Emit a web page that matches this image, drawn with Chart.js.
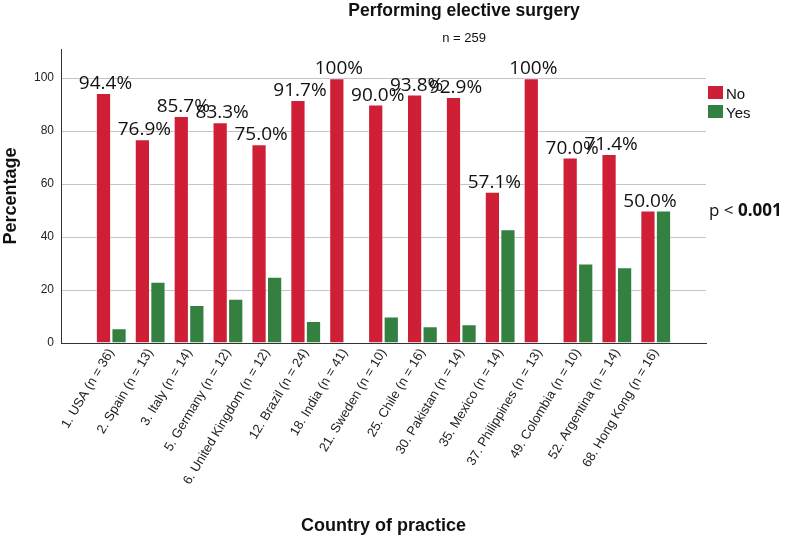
<!DOCTYPE html>
<html>
<head>
<meta charset="utf-8">
<script src="https://cdn.jsdelivr.net/npm/chart.js@4.4.0/dist/chart.umd.min.js"></script>
<style>
  html, body { margin: 0; padding: 0; background: #fff; }
</style>
</head>
<body>
<canvas id="grafico" width="795" height="541"></canvas>
<script>
const paises = [
    "1. USA (n = 36)", "2. Spain (n = 13)", "3. Italy (n = 14)", "5. Germany (n = 12)",
    "6. United Kingdom (n = 12)", "12. Brazil (n = 24)", "18. India (n = 41)",
    "21. Sweden (n = 10)", "25. Chile (n = 16)", "30. Pakistan (n = 14)",
    "35. Mexico (n = 14)", "37. Philippines (n = 13)", "49. Colombia (n = 10)",
    "52. Argentina (n = 14)", "68. Hong Kong (n = 16)"
];
const valoresNo = [94.4, 76.9, 85.7, 83.3, 75.0, 91.7, 100, 90.0, 93.8, 92.9, 57.1, 100, 70.0, 71.4, 50.0];
const valoresYes = [5.6, 23.1, 14.3, 16.7, 25.0, 8.3, 0, 10.0, 6.3, 7.1, 42.9, 0, 30.0, 28.6, 50.0];
const rotulosNo = ["94.4%", "76.9%", "85.7%", "83.3%", "75.0%", "91.7%", "100%", "90.0%", "93.8%", "92.9%", "57.1%", "100%", "70.0%", "71.4%", "50.0%"];
const ticksY = [0, 20, 40, 60, 80, 100];

const VERMELHO = "#cf1f37";
const VERDE = "#348040";

// textos fora do eixo: titulo, legenda, p-valor e rotulos das barras
const textosExtras = {
    id: "textosExtras",
    afterDatasetsDraw(chart) {
        const c = chart.ctx;
        c.save();
        c.fillStyle = "#111";
        c.textAlign = "center";
        c.textBaseline = "alphabetic";
        c.font = "19px 'Open Sans'";
        const meta = chart.getDatasetMeta(0);
        meta.data.forEach((bar, i) => {
            c.fillText(rotulosNo[i], bar.x + 2, bar.y - 4);
        });
        c.restore();
    },
    afterDraw(chart) {
        const c = chart.ctx;
        c.save();
        c.fillStyle = "#111";
        c.textAlign = "center";
        c.font = "bold 17.5px 'Liberation Sans'";
        c.fillText("Performing elective surgery", 464, 16);
        c.font = "13px 'Liberation Sans'";
        c.fillText("n = 259", 464, 42);

        // legenda
        c.textAlign = "left";
        c.fillStyle = VERMELHO;
        c.fillRect(708, 86, 15, 13);
        c.fillStyle = VERDE;
        c.fillRect(708, 105, 15, 13);
        c.fillStyle = "#111";
        c.font = "15px 'Liberation Sans'";
        c.fillText("No", 726, 99);
        c.fillText("Yes", 726, 118);

        // p-valor
        c.font = "17px 'Open Sans'";
        const p1 = "p < ";
        c.fillText(p1, 709, 216);
        const w = c.measureText(p1).width;
        c.font = "bold 17px 'Open Sans'";
        c.fillText("0.001", 709 + w, 216);
        c.restore();
    }
};

new Chart(document.getElementById("grafico").getContext("2d"), {
    type: "bar",
    data: {
        datasets: [{
            label: "No",
            data: valoresNo.map((v, i) => ({ x: i, y: v })),
            backgroundColor: VERMELHO,
            borderColor: "rgba(255,255,255,0.45)",
            borderWidth: 1,
            categoryPercentage: 0.8,
            barPercentage: 0.98
        }, {
            label: "Yes",
            data: valoresYes.map((v, i) => ({ x: i, y: v })),
            backgroundColor: VERDE,
            borderColor: "rgba(255,255,255,0.45)",
            borderWidth: 1,
            categoryPercentage: 0.8,
            barPercentage: 0.98
        }]
    },
    options: {
        responsive: false,
        animation: false,
        devicePixelRatio: 1,
        layout: { padding: { top: 49, right: 89, left: 0, bottom: 0 } },
        plugins: {
            legend: { display: false },
            tooltip: { enabled: false }
        },
        scales: {
            x: {
                type: "linear",
                min: -0.74,
                max: 14.74,
                afterBuildTicks: s => { s.ticks = paises.map((p, i) => ({ value: i })); },
                afterFit: s => { s.height = 198; },
                grid: { display: false, drawTicks: false },
                border: { color: "#333", width: 1 },
                ticks: {
                    autoSkip: false,
                    minRotation: 59,
                    maxRotation: 59,
                    padding: 3,
                    color: "#222",
                    font: { family: "'Liberation Sans'", size: 13 },
                    callback: v => paises[v]
                },
                title: {
                    display: true,
                    text: "Country of practice",
                    color: "#111",
                    font: { family: "'Liberation Sans'", size: 18, weight: "bold" },
                    padding: { top: 4, bottom: 4 }
                }
            },
            y: {
                min: 0,
                max: 111,
                afterBuildTicks: s => { s.ticks = ticksY.map(v => ({ value: v })); },
                afterFit: s => { s.width = 61; },
                grid: { color: "#c4c4c4", lineWidth: 1, drawTicks: false },
                border: { color: "#333", width: 1 },
                ticks: {
                    padding: 7,
                    color: "#222",
                    font: { family: "'Liberation Sans'", size: 12 }
                },
                title: {
                    display: true,
                    text: "Percentage",
                    color: "#111",
                    font: { family: "'Liberation Sans'", size: 18, weight: "bold" },
                    padding: { top: 0, bottom: 0 }
                }
            }
        }
    },
    plugins: [textosExtras]
});
</script>
</body>
</html>
